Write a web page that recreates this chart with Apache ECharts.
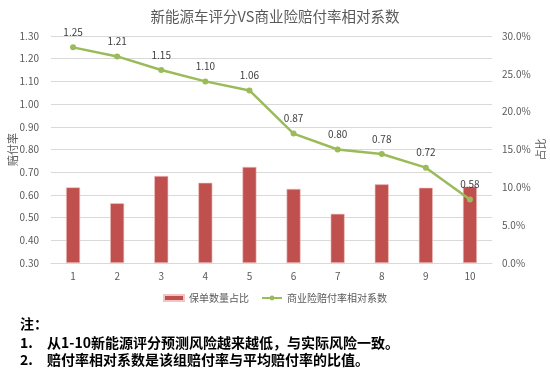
<!DOCTYPE html>
<html>
<head>
<meta charset="utf-8">
<script src="https://cdn.jsdelivr.net/npm/echarts@6/dist/echarts.min.js"></script>
<style>
html,body{margin:0;padding:0;background:#fff;}
#c{width:550px;height:370px;}
</style>
</head>
<body>
<div id="c"></div>
<script>
var categories = ['1','2','3','4','5','6','7','8','9','10'];
var policyShare = [10.0, 7.9, 11.5, 10.6, 12.7, 9.8, 6.5, 10.4, 9.95, 10.1];
var lossRatioCoef = [1.25, 1.21, 1.15, 1.10, 1.06, 0.87, 0.80, 0.78, 0.72, 0.58];
var barName = '保单数量占比';
var lineName = '商业险赔付率相对系数';
var titleText = '新能源车评分VS商业险赔付率相对系数';
var noteLines = ['注：', '1.', '2.'];
var noteTexts = ['', '从1-10新能源评分预测风险越来越低，与实际风险一致。', '赔付率相对系数是该组赔付率与平均赔付率的比值。'];

var FONT = '"Noto Sans CJK SC", "Noto Sans", sans-serif';
var chart = echarts.init(document.getElementById('c'));
var graphics = [];
var noteY = [326, 345, 362];
for (var i = 0; i < noteLines.length; i++) {
  graphics.push({type:'text', left:20, top:noteY[i]-9, style:{text:noteLines[i], font:'bold 14px ' + FONT, fill:'#000'}});
  if (noteTexts[i]) {
    graphics.push({type:'text', left:47, top:noteY[i]-9, style:{text:noteTexts[i], font:'bold 14px ' + FONT, fill:'#000'}});
  }
}
chart.setOption({
  backgroundColor:'#fff',
  textStyle:{fontFamily:FONT},
  title:{text:titleText, left:'center', top:4, textStyle:{fontSize:14.5, fontWeight:'normal', color:'#595959', fontFamily:FONT}},
  grid:{left:51, right:58, top:36, bottom:107, containLabel:false, outerBoundsMode:'none'},
  legend:{bottom:62, left:'center', itemGap:12, itemWidth:20, itemHeight:6,
    textStyle:{fontSize:10, color:'#595959', fontFamily:FONT},
    data:[{name:barName, icon:'rect'}, {name:lineName}]},
  xAxis:{type:'category', data:categories,
    axisLine:{lineStyle:{color:'#d9d9d9'}}, axisTick:{show:false},
    axisLabel:{color:'#595959', fontSize:10, margin:8}},
  yAxis:[
    {type:'value', min:0.3, max:1.3, interval:0.1, name:'赔付率', nameLocation:'middle', nameGap:33, nameRotate:90, nameMoveOverlap:false,
     nameTextStyle:{color:'#595959', fontSize:11},
     axisLabel:{color:'#595959', fontSize:10, margin:12, formatter:function(v){return v.toFixed(2);}},
     splitLine:{lineStyle:{color:'#d9d9d9'}}, axisLine:{show:false}, axisTick:{show:false}},
    {type:'value', min:0, max:30, interval:5, name:'占比', nameLocation:'middle', nameGap:43, nameRotate:90, nameMoveOverlap:false,
     nameTextStyle:{color:'#595959', fontSize:11},
     axisLabel:{color:'#595959', fontSize:10, margin:10, formatter:function(v){return v.toFixed(1)+'%';}},
     splitLine:{show:false}, axisLine:{show:false}, axisTick:{show:false}}
  ],
  series:[
    {name:barName, type:'bar', yAxisIndex:1, data:policyShare, barWidth:14,
     itemStyle:{color:'#C0504D', borderColor:'#f2c4c3', borderWidth:0.6}},
    {name:lineName, type:'line', yAxisIndex:0, data:lossRatioCoef, symbol:'circle', symbolSize:6,
     lineStyle:{color:'#9BBB59', width:2.5}, itemStyle:{color:'#9BBB59'},
     label:{show:true, position:'top', distance:7, color:'#404040', fontSize:10, formatter:function(p){return p.value.toFixed(2);}}}
  ],
  graphic:graphics
});
</script>
</body>
</html>
